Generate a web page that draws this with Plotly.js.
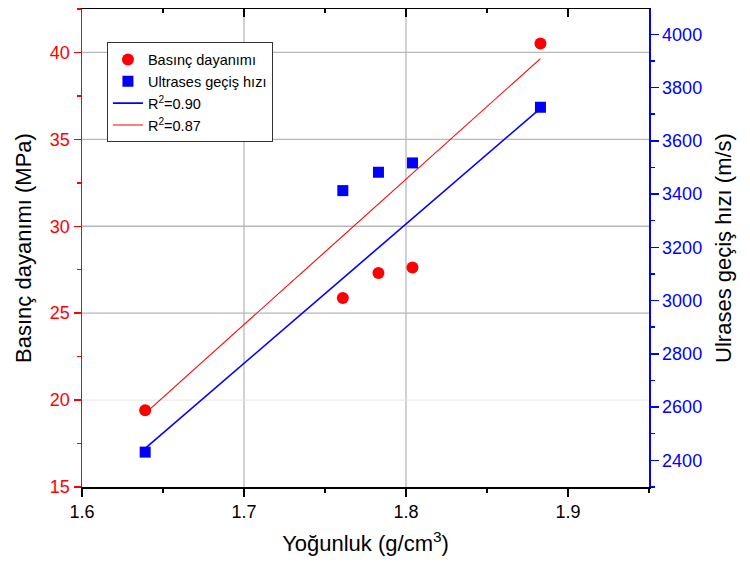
<!DOCTYPE html>
<html>
<head>
<meta charset="utf-8">
<script src="https://cdn.plot.ly/plotly-3.0.1.min.js"></script>
<style>html,body{margin:0;padding:0;background:#fff;}#chart{width:750px;height:568px;}</style>
</head>
<body>
<div id="chart"></div>
<script>
// Data
const density = [1.639, 1.761, 1.783, 1.804, 1.883];
const strength = [19.42, 25.87, 27.31, 27.63, 40.52];
const velocity = [2431, 3413, 3482, 3517, 3726];
const fitX = [1.639, 1.883];
const fitStrength = [19.24, 39.65];
const fitVelocity = [2445, 3722];
const xTicks = [1.6, 1.7, 1.8, 1.9];
const gridX = [1.7, 1.8];
const gridY = [25, 30, 35, 40];
const gridYFaint = [20];
const names = ["Basınç dayanımı", "Ultrases geçiş hızı", "R<sup>2</sup>=0.90", "R<sup>2</sup>=0.87"];

const FONT = "Liberation Sans, Arial, sans-serif";
const RED = "#ff0000";
const BLUE = "#0000ff";

const traces = [
  {x: density, y: strength, mode: "markers", name: names[0], xaxis: "x", yaxis: "y",
   marker: {symbol: "circle", size: 12, color: RED}},
  {x: density, y: velocity, mode: "markers", name: names[1], xaxis: "x", yaxis: "y2",
   marker: {symbol: "square", size: 11, color: BLUE}},
  {x: fitX, y: fitVelocity, mode: "lines", name: names[2], xaxis: "x", yaxis: "y2",
   line: {color: BLUE, width: 1.6}},
  {x: fitX, y: fitStrength, mode: "lines", name: names[3], xaxis: "x", yaxis: "y",
   line: {color: RED, width: 1.1}},
  {x: [], y: [], xaxis: "x2", yaxis: "y", showlegend: false, hoverinfo: "skip", mode: "markers"}
];

const shapes = [];
gridX.forEach(v => shapes.push({type: "line", xref: "x", yref: "paper", x0: v, x1: v, y0: 0, y1: 1,
  layer: "below", line: {color: "#b8b8b8", width: 1.3}}));
gridY.forEach(v => shapes.push({type: "line", xref: "paper", yref: "y", x0: 0, x1: 1, y0: v, y1: v,
  layer: "below", line: {color: "#b8b8b8", width: 1.3}}));
gridYFaint.forEach(v => shapes.push({type: "line", xref: "paper", yref: "y", x0: 0, x1: 1, y0: v, y1: v,
  layer: "below", line: {color: "#e6e6e6", width: 1}}));

const layout = {
  width: 750, height: 568,
  margin: {l: 82, r: 101, t: 9, b: 81},
  paper_bgcolor: "#ffffff", plot_bgcolor: "#ffffff",
  font: {family: FONT, size: 18, color: "#000"},
  showlegend: true,
  legend: {x: 0.044, y: 0.93, xanchor: "left", yanchor: "top",
    bgcolor: "#ffffff", bordercolor: "#333333", borderwidth: 1,
    font: {family: FONT, size: 14.5, color: "#000"}, tracegroupgap: 0, itemwidth: 30},
  xaxis: {range: [1.6, 1.95], tickvals: xTicks, ticktext: xTicks.map(v => v.toFixed(1)),
    showgrid: false, zeroline: false, showline: true, linecolor: "#000", linewidth: 1.5,
    ticks: "outside", ticklen: 8, tickwidth: 1.5, tickcolor: "#000",
    minor: {dtick: 0.05, tick0: 1.6, ticks: "outside", ticklen: 4, tickwidth: 1.5, tickcolor: "#000", showgrid: false},
    tickfont: {family: FONT, size: 18, color: "#000"},
    title: {text: "Yoğunluk (g/cm<sup>3</sup>)", font: {family: FONT, size: 22, color: "#000"}, standoff: 14}},
  xaxis2: {overlaying: "x", side: "top", anchor: "y", range: [1.6, 1.95], tickvals: xTicks,
    showticklabels: false, showgrid: false, zeroline: false, showline: true, linecolor: "#000", linewidth: 1.5,
    ticks: "inside", ticklen: 8, tickwidth: 1.5, tickcolor: "#000",
    minor: {dtick: 0.05, tick0: 1.6, ticks: "inside", ticklen: 4, tickwidth: 1.5, tickcolor: "#000", showgrid: false}},
  yaxis: {range: [15, 42.5], dtick: 5, tick0: 15,
    showgrid: false, zeroline: false, showline: true, linecolor: RED, linewidth: 1.5,
    ticks: "outside", ticklen: 7, tickwidth: 1.5, tickcolor: RED,
    minor: {dtick: 2.5, tick0: 15, ticks: "outside", ticklen: 4, tickwidth: 1.5, tickcolor: RED, showgrid: false},
    tickfont: {family: FONT, size: 18, color: RED},
    title: {text: "Basınç dayanımı (MPa)", font: {family: FONT, size: 22, color: "#000"}, standoff: 12}},
  yaxis2: {overlaying: "y", side: "right", anchor: "x", range: [2300, 4095], dtick: 200, tick0: 2400,
    showgrid: false, zeroline: false, showline: true, linecolor: BLUE, linewidth: 1.5,
    ticks: "outside", ticklen: 8, tickwidth: 1.5, tickcolor: BLUE,
    minor: {dtick: 100, tick0: 2300, ticks: "outside", ticklen: 4, tickwidth: 1.5, tickcolor: BLUE, showgrid: false},
    tickfont: {family: FONT, size: 18, color: BLUE},
    title: {text: "Ulrases geçiş hızı (m/s)", font: {family: FONT, size: 22, color: "#000"}, standoff: 14}},
  shapes: shapes
};

Plotly.newPlot("chart", traces, layout, {staticPlot: true, displayModeBar: false});
</script>
</body>
</html>
